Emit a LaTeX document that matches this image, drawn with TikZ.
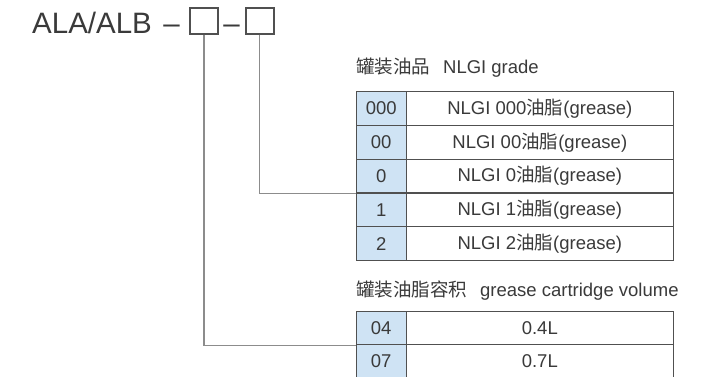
\documentclass[tikz,border=0pt]{standalone}
\usepackage{fontspec}
\setmainfont{Liberation Sans}
\newfontfamily\cjk{Noto Sans CJK SC}
\definecolor{txt}{HTML}{3A3A3A}
\definecolor{cellblue}{HTML}{CFE3F4}
\definecolor{tline}{HTML}{505050}
\definecolor{cline}{HTML}{8C8C8C}
\tikzset{
  numcell/.style={draw=tline, line width=1.2pt, fill=cellblue, minimum width=50.2pt, minimum height=33.8pt, inner sep=0pt, anchor=north west, text=txt, font=\fontsize{18.5}{20}\selectfont},
  desccell/.style={draw=tline, line width=1.2pt, fill=white, minimum width=267pt, minimum height=33.8pt, inner sep=0pt, anchor=north west, text=txt, font=\fontsize{18.5}{20}\selectfont},
  sqbox/.style={draw=tline, line width=1.8pt, minimum width=28pt, minimum height=26pt, inner sep=0pt},
  conn/.style={draw=cline, line width=1.5pt},
  lbl/.style={anchor=west, inner sep=0pt, text=txt, font=\fontsize{18.5}{20}\selectfont},
  ttl/.style={inner sep=0pt, text=txt, font=\fontsize{29.5}{32}\selectfont}
}
\begin{document}
\begin{tikzpicture}[x=1pt,y=-1pt]
\useasboundingbox[fill=white] (0,0) rectangle (709,377);
% title
\node[ttl, anchor=base west] (title) at (32,34) {ALA/ALB};
\node[ttl, anchor=base] (d1) at (171.5,34) {–};
\node[sqbox] (b1) at (204,20.7) {};
\node[ttl, anchor=base] (d2) at (231.5,34) {–};
\node[sqbox] (b2) at (259.7,20.7) {};
% labels
\node[lbl] (l1) at (356,68) {{\cjk 罐装油品}\hspace{0.7em}NLGI grade};
\node[lbl] (l2) at (356,291) {{\cjk 罐装油脂容积}\hspace{0.7em}grease cartridge volume};
% table 1
\node[numcell] (n000) at (355.5,91) {000};
\node[desccell] (g000) at (405.7,91) {NLGI 000{\cjk 油脂}(grease)};
\node[numcell] (n00) at (355.5,124.8) {00};
\node[desccell] (g00) at (405.7,124.8) {NLGI 00{\cjk 油脂}(grease)};
\node[numcell] (n0) at (355.5,158.6) {0};
\node[desccell] (g0) at (405.7,158.6) {NLGI 0{\cjk 油脂}(grease)};
\node[numcell] (n1) at (355.5,192.4) {1};
\node[desccell] (g1) at (405.7,192.4) {NLGI 1{\cjk 油脂}(grease)};
\node[numcell] (n2) at (355.5,226.2) {2};
\node[desccell] (g2) at (405.7,226.2) {NLGI 2{\cjk 油脂}(grease)};
% table 2
\node[numcell, minimum height=33.4pt] (n04) at (355.5,310.7) {04};
\node[desccell, minimum height=33.4pt] (v04) at (405.7,310.7) {0.4L};
\node[numcell, minimum height=33.4pt] (n07) at (355.5,344.1) {07};
\node[desccell, minimum height=33.4pt] (v07) at (405.7,344.1) {0.7L};
% connectors
\draw[conn] (b2.south) |- (n0.south west);
\draw[conn] (b1.south) |- (n04.south west);
\end{tikzpicture}
\end{document}
